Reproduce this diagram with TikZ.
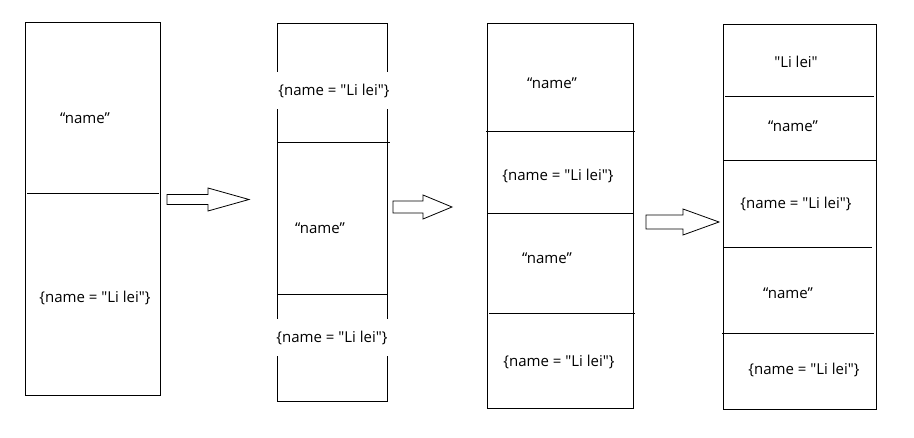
\documentclass[tikz,border=0pt]{standalone}
\usepackage{fontspec}
\setmainfont[Ligatures=TeXOff]{Open Sans}
\usepackage{tikz}
\usetikzlibrary{positioning}
\newcommand{\hollowarrow}[6]{% start x, mid y, head x, tip x, half shaft, half head
  \draw[arrowline] (#1,#2-#5) -- (#3,#2-#5) -- (#3,#2-#6) -- (#4,#2)
    -- (#3,#2+#6) -- (#3,#2+#5) -- (#1,#2+#5) -- cycle;}

\begin{document}
\begin{tikzpicture}[x=1pt,y=-1pt,
  stack/.style={draw,line width=0.9pt,anchor=north west,inner sep=0pt,outer sep=0pt},
  cell/.style={font=\fontsize{15}{18}\selectfont,inner sep=0pt},
  gapcell/.style={cell,fill=white,inner xsep=2pt,minimum height=37pt},
  arrowline/.style={line width=0.8pt},
  every path/.style={line width=0.9pt}]
  \useasboundingbox (0,0) rectangle (914,438);
  % first stack
  \node[stack,minimum width=135pt,minimum height=373pt] (s1) at (25,22) {};
  \draw (27,193) -- (159,193);
  \node[cell] (s1a) at (85,118) {“name”};
  \node[cell] (s1b) at (95,298) {\{name = "Li lei"\}};
  \hollowarrow{167}{199.5}{208}{249}{5}{11.5}
  % second stack
  \node[stack,minimum width=110pt,minimum height=378pt] (s2) at (277,23) {};
  \draw (277,142) -- (390,142);
  \draw (277,294) -- (387,294);
  \node[gapcell] (s2a) at (334,91) {\{name = "Li lei"\}};
  \node[cell] (s2b) at (320,228) {“name”};
  \node[gapcell] (s2c) at (332,338) {\{name = "Li lei"\}};
  \hollowarrow{393}{207}{423}{452}{6}{12}
  % third stack
  \node[stack,minimum width=146pt,minimum height=385pt] (s3) at (487,23) {};
  \draw (486,131) -- (635,131);
  \draw (487,213) -- (633,213);
  \draw (489,313) -- (635,313);
  \node[cell] (s3a) at (552,83) {“name”};
  \node[cell] (s3b) at (558,176) {\{name = "Li lei"\}};
  \node[cell] (s3c) at (547,258) {“name”};
  \node[cell] (s3d) at (559,362) {\{name = "Li lei"\}};
  \hollowarrow{646}{222}{683}{719}{7}{13}
  % fourth stack
  \node[stack,minimum width=153pt,minimum height=385pt] (s4) at (723,24) {};
  \draw (725,96) -- (874,96);
  \draw (723,160) -- (876,160);
  \draw (723,247) -- (872,247);
  \draw (722,333) -- (874,333);
  \node[cell] (s4a) at (796,62) {"Li lei"};
  \node[cell] (s4b) at (793,126) {“name”};
  \node[cell] (s4c) at (796,204) {\{name = "Li lei"\}};
  \node[cell] (s4d) at (788,293) {“name”};
  \node[cell] (s4e) at (804,370) {\{name = "Li lei"\}};
\end{tikzpicture}
\end{document}
